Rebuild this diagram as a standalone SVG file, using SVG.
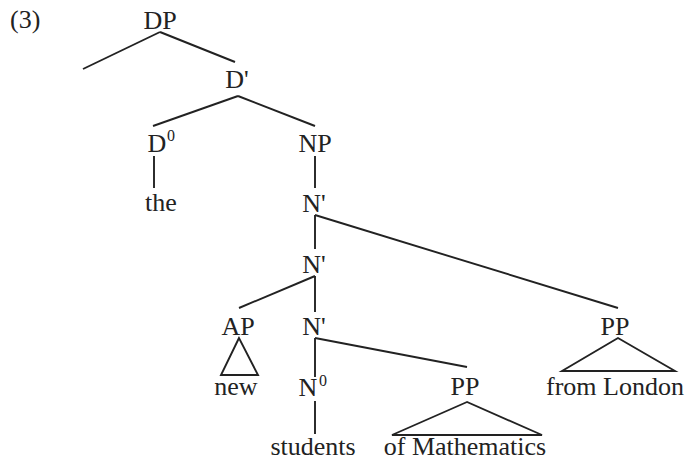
<svg xmlns="http://www.w3.org/2000/svg" width="687" height="461" viewBox="0 0 687 461">
<style>
text{font-family:"Liberation Serif","Times New Roman",serif;font-size:26px;fill:#222;text-anchor:middle}
.sup{font-size:16px;text-anchor:start}
.st{text-anchor:start}
line,polygon{stroke:#222;stroke-width:1.9;fill:none;stroke-linecap:butt}
</style>
<rect width="687" height="461" fill="#fff"/>
<g id="label"><text class="st" x="10" y="28">(3)</text></g>
<g id="connectors">
<line x1="160" y1="32" x2="83" y2="69"/>
<line x1="160" y1="32" x2="235" y2="62"/>
<line x1="238" y1="96" x2="153" y2="126"/>
<line x1="238" y1="96" x2="315" y2="126"/>
<line x1="154" y1="156" x2="154" y2="188"/>
<line x1="315" y1="156" x2="315" y2="188"/>
<line x1="315" y1="215" x2="315" y2="249"/>
<line x1="315" y1="215" x2="618" y2="308"/>
<line x1="315" y1="276" x2="239" y2="308"/>
<line x1="315" y1="276" x2="315" y2="312"/>
<line x1="315" y1="338" x2="315" y2="377"/>
<line x1="315" y1="338" x2="467" y2="367"/>
<line x1="315" y1="401" x2="315" y2="434"/>
</g>
<g id="DP"><text x="160" y="29">DP</text></g>
<g id="Dbar"><text x="237" y="88">D'</text></g>
<g id="D0"><text x="157" y="152">D</text><text class="sup" x="167" y="141">0</text></g>
<g id="the"><text x="161" y="211">the</text></g>
<g id="NP"><text x="315" y="152">NP</text></g>
<g id="Nbar1"><text x="314" y="212">N'</text></g>
<g id="Nbar2"><text x="314" y="273">N'</text></g>
<g id="AP"><text x="238" y="335">AP</text><polygon points="239,338 221,375 258,375"/><text x="236" y="395">new</text></g>
<g id="Nbar3"><text x="314" y="335">N'</text></g>
<g id="N0"><text x="308" y="396">N</text><text class="sup" x="319" y="386">0</text></g>
<g id="students"><text x="313" y="455">students</text></g>
<g id="PP1"><text x="465" y="395">PP</text><polygon points="467,402 392,435 542,435"/><text x="465" y="455">of Mathematics</text></g>
<g id="PP2"><text x="615" y="335">PP</text><polygon points="618,338 562,371 675,371"/><text x="615" y="395">from London</text></g>
</svg>
